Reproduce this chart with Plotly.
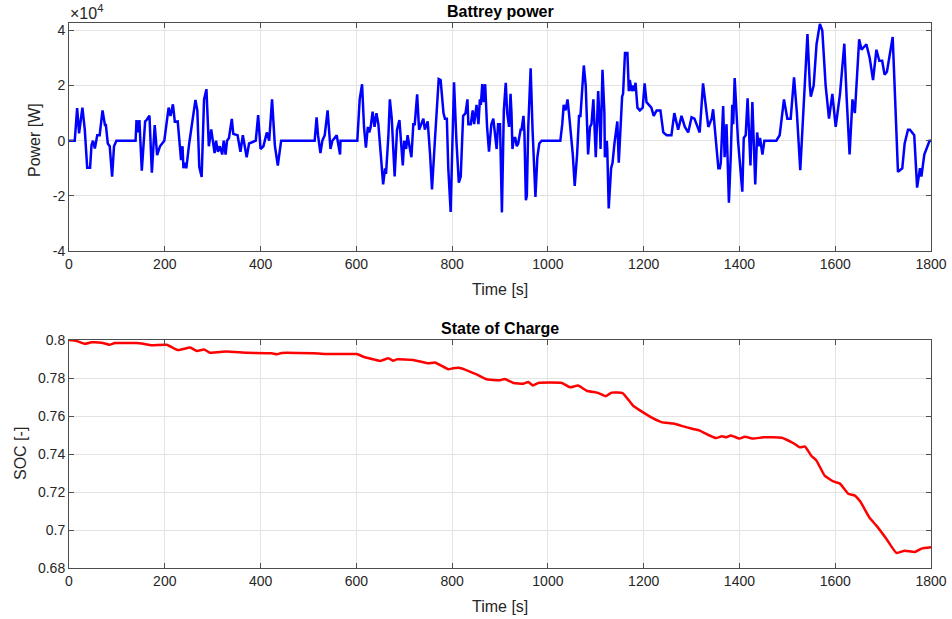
import numpy as np
import plotly.graph_objects as go

# ---- Battery power (values in units of 1e4 W) ----
power_t = [0, 12, 17, 21, 28, 33, 38, 44, 47, 50, 54, 59, 64, 70, 75, 77, 81, 85, 90, 94, 99, 139,
           141, 144, 147, 152, 159, 162, 168, 173, 179, 184, 190, 199, 208, 212, 217, 221, 227, 234,
           237, 239, 242, 245, 251, 258, 264, 268, 272, 277, 280, 282, 287, 290, 292, 297, 301, 304,
           307, 311, 315, 320, 323, 327, 330, 334, 340, 343, 352, 358, 363, 371, 376, 390, 395, 400,
           406, 413, 418, 424, 430, 436, 443, 513, 517, 520, 525, 529, 534, 540, 546, 550, 559, 566,
           567, 602, 607, 612, 616, 620, 624, 627, 630, 634, 638, 642, 646, 651, 656, 660, 662, 667,
           670, 674, 680, 685, 690, 697, 700, 704, 707, 715, 719, 722, 727, 731, 736, 740, 743, 749,
           754, 758, 764, 768, 772, 776, 782, 785, 789, 792, 797, 800, 804, 809, 814, 818, 823, 828,
           832, 834, 839, 843, 846, 851, 855, 858, 860, 863, 866, 869, 873, 877, 882, 886, 893, 896,
           900, 904, 908, 912, 915, 919, 922, 924, 926, 929, 932, 935, 938, 943, 945, 949, 951, 954,
           956, 959, 964, 968, 974, 978, 982, 987, 1026, 1030, 1033, 1037, 1041, 1044, 1047, 1052,
           1056, 1061, 1065, 1068, 1075, 1079, 1084, 1088, 1091, 1095, 1100, 1105, 1109, 1110, 1114,
           1118, 1119, 1123, 1124, 1127, 1132, 1135, 1139, 1141, 1145, 1148, 1155, 1157, 1161, 1166,
           1169, 1171, 1175, 1178, 1180, 1183, 1187, 1192, 1198, 1202, 1206, 1211, 1216, 1221, 1227,
           1235, 1241, 1248, 1258, 1264, 1272, 1279, 1286, 1293, 1300, 1306, 1313, 1317, 1324, 1335,
           1342, 1345, 1356, 1359, 1361, 1366, 1369, 1373, 1375, 1378, 1382, 1385, 1387, 1390, 1397,
           1406, 1409, 1413, 1417, 1423, 1427, 1433, 1437, 1440, 1443, 1448, 1452, 1477, 1484, 1493,
           1500, 1507, 1514, 1520, 1527, 1533, 1542, 1547, 1549, 1555, 1561, 1568, 1573, 1580, 1587,
           1594, 1601, 1610, 1619, 1624, 1630, 1636, 1641, 1650, 1655, 1660, 1665, 1672, 1679, 1686,
           1692, 1698, 1703, 1708, 1720, 1724, 1731, 1740, 1745, 1752, 1756, 1765, 1771, 1777, 1780,
           1786, 1791, 1797, 1800]
power_1e4 = [0, 0, 1.18, 0.27, 1.2, 0.39, -0.98, -0.98, -0.16, 0, -0.28, 0.2, 0.2, 1.1, 0.57, 0.57,
             -0.1, -0.2, -1.3, -0.2, 0, 0,
             0.75, 0.3, 0.75, -1.09, 0.7, 0.75, 0.91, -1.16, 0.57, -0.52, -0.2, 0, 1.2, 0.9, 1.32,
             0.69, 0.7, -0.7,
             -0.2, -1.0, -0.8, -1.0, -0.1, 0.8, 1.48, 1.1, -0.95, -1.31, 0, 1.5, 1.87, 0.8, -0.2,
             0.41, -0.1, -0.45,
             0, -0.4, -0.2, -0.5, 0, -0.5, 0, 0.1, 0.79, 0.25, 0.2, -0.4, 0.2, -0.6, -0.1, 0, 0.93,
             -0.3,
             -0.2, 0.3, 0, 1.5, -0.2, -0.9, 0, 0, 0.85, 0.2, -0.45, 0, 0.2, 1.1, -0.3, 0, 0.2, -0.5,
             0, 0, 1.5, 2.05, 0.5, -0.25, 0.5, 0.3, 0.5, 1.05, 0.5, 1.0, 0.6, -0.5, -1.58, -1.0,
             -1.2, 0.2,
             1.5, 0.8, -1.3, 0.4, 0.75, -0.9, 0, -0.3, 0.2, -0.6, 0.6, 0.6, 1.68, 0.4, 0.6, 0.8,
             0.4, 0.7,
             -0.5, -1.77, 0, 1.0, 2.24, 2.2, 1.0, 0.8, 0.8, -1.0, -2.58, -0.5, 2.12, 0, -1.52, -1.3,
             0.9, 1.0,
             1.5, 0.6, 0.6, 1.1, 0.6, 1.3, 0.6, 1.5, 1.3, 2.05, 1.4, 2.05, 0.5, -0.4, 0.6, 0.8,
             -0.3, 0.6,
             0.6, -2.6, 1.1, 2.1, 1.0, 0.5, 1.7, 1.0, -0.3, 0.1, 0.1, -0.2, -0.1, 0.4, 0.4, 0.9,
             0.3, -2.16,
             -2.0, 0.5, 2.63, 0.4, -2.04, -0.6, -0.1, 0, 0, 0.6, 1.3, 1.1, 1.5, 1.0, 0.5, -0.5,
             -1.64, -0.5, 0.9, 0.9, 2.73, 2.0, -0.5, 0.5, 0.6, 1.5, -0.6, 1.8, 0.3, -0.3, 2.57,
             1.0, -0.6, 0, -0.3, -2.46, -1.0, -0.8, -0.1, 0.2, 0.7, -0.8, 1.6, 1.7, 3.18, 3.18,
             1.8, 2.2, 1.8, 2.0, 1.8, 2.1, 1.2, 1.1, 1.2, 2.08, 1.4, 1.3, 1.2, 0.9, 1.1,
             1.1, 0.3, 0.2, 0.2, 1.0, 0.4, 0.9, 0.5, 0.3, 0.85, 0.8, 0.5, 0.3, 2.08, 0.5,
             0.8, 1.14, -1.0, -1.0, -0.8, 1.26, -0.6, 0.6, -0.5, -2.25, -0.5, 1.3, 0.6, 2.27, 0,
             -1.85, 0.1, 0.2, 1.54, -0.9, 1.4, -1.59, 0.3, -0.2, 0.1, -0.5, 0, 0, 0.2, 1.5,
             0.8, 0.8, 2.3, 1.0, -1.07, 1.0, 3.87, 2.0, 1.6, 2.0, 3.5, 4.24, 4.0, 2.0, 0.8,
             1.7, 0.5, 1.7, 3.52, 1.5, -0.5, 1.5, 1.0, 3.68, 3.3, 3.4, 3.5, 3.0, 2.2, 3.3,
             2.9, 2.9, 2.4, 2.5, 3.76, 2.0, -1.13, -1.0, -0.1, 0.4, 0.4, 0.2, -1.7, -1.0, -1.3,
             -0.5, -0.3, 0, 0]

# ---- State of charge ----
soc_t = [0, 16, 33, 47, 68, 84, 96, 141, 155, 173, 204, 228, 253, 267, 282, 294, 329, 371, 423,
         434, 444, 510, 545, 601, 615, 650, 667, 677, 684, 719, 750, 764, 792, 802, 816, 851, 872,
         900, 910, 928, 949, 959, 969, 980, 1029, 1046, 1063, 1081, 1105, 1121, 1133, 1156, 1178,
         1199, 1217, 1237, 1262, 1290, 1317, 1335, 1351, 1363, 1373, 1382, 1400, 1411, 1429, 1450,
         1488, 1512, 1526, 1537, 1550, 1561, 1578, 1596, 1610, 1627, 1641, 1652, 1672, 1686, 1707,
         1728, 1745, 1766, 1780, 1800]
soc = [0.8000, 0.7995, 0.7980, 0.7988, 0.7986, 0.7975, 0.7984, 0.7984, 0.7980, 0.7972, 0.7975,
       0.7947, 0.7960, 0.7942, 0.7950, 0.7933, 0.7939, 0.7933, 0.7930, 0.7925, 0.7932, 0.7930,
       0.7926, 0.7926, 0.7912, 0.7890, 0.7904, 0.7891, 0.7898, 0.7895, 0.7877, 0.7882, 0.7846,
       0.7851, 0.7853, 0.7819, 0.7793, 0.7788, 0.7795, 0.7774, 0.7770, 0.7779, 0.7761, 0.7774,
       0.7774, 0.7751, 0.7760, 0.7733, 0.7721, 0.7704, 0.7723, 0.7721, 0.7654, 0.7619, 0.7591,
       0.7568, 0.7560, 0.7540, 0.7523, 0.7500, 0.7484, 0.7493, 0.7488, 0.7498, 0.7481, 0.7491,
       0.7481, 0.7488, 0.7486, 0.7458, 0.7435, 0.7439, 0.7391, 0.7365, 0.7286, 0.7256, 0.7244,
       0.7191, 0.7181, 0.7151, 0.7063, 0.7023, 0.6953, 0.6879, 0.6891, 0.6884, 0.6902, 0.6909]

x_ticks = [0, 200, 400, 600, 800, 1000, 1200, 1400, 1600, 1800]
p_ticks = [-4, -2, 0, 2, 4]
soc_ticks = [0.68, 0.70, 0.72, 0.74, 0.76, 0.78, 0.80]
soc_ticklabels = ["0.68", "0.7", "0.72", "0.74", "0.76", "0.78", "0.8"]

power_w = np.array(power_1e4) * 1e4

FONT = "Liberation Sans, Arial, sans-serif"
TXT = "#262626"
AX = "#4d4d4d"
GRID = "#e3e3e3"

fig = go.Figure()
fig.add_trace(go.Scatter(x=power_t, y=power_w, mode="lines",
                         line=dict(color="#0000FF", width=2.5), xaxis="x", yaxis="y",
                         showlegend=False))
fig.add_trace(go.Scatter(x=soc_t, y=soc, mode="lines",
                         line=dict(color="#FF0000", width=2.5, shape="spline", smoothing=0.4),
                         xaxis="x2", yaxis="y2", showlegend=False))

common_x = dict(range=[0, 1800], tickvals=x_ticks, showgrid=True, gridcolor=GRID, gridwidth=1,
                showline=True, linecolor=AX, linewidth=1, mirror="ticks", ticks="inside",
                ticklen=5, tickcolor=AX, zeroline=False, automargin=False,
                tickfont=dict(family=FONT, size=14, color=TXT))
common_y = dict(showgrid=True, gridcolor=GRID, gridwidth=1, showline=True, linecolor=AX,
                linewidth=1, mirror="ticks", ticks="inside", ticklen=5, tickcolor=AX,
                zeroline=False, automargin=False, tickfont=dict(family=FONT, size=14, color=TXT))

# pixel geometry of the two axes boxes
L, R, T, B = 69, 931, 23, 568
W, H = 952, 619
plot_h = B - T
top_dom = [(B - 251) / plot_h, 1.0]
bot_dom = [0.0, (B - 340) / plot_h]


def py(px_y):
    return (B - px_y) / plot_h


def px(px_x):
    return (px_x - L) / (R - L)


fig.update_layout(
    width=W, height=H,
    margin=dict(l=L, r=W - R, t=T, b=H - B, autoexpand=False),
    paper_bgcolor="white", plot_bgcolor="white",
    xaxis=dict(common_x, anchor="y"),
    yaxis=dict(common_y, domain=top_dom, anchor="x", range=[-40000, 42700],
               tickvals=[v * 1e4 for v in p_ticks], ticktext=[str(v) for v in p_ticks]),
    xaxis2=dict(common_x, anchor="y2"),
    yaxis2=dict(common_y, domain=bot_dom, anchor="x2", range=[0.68, 0.80],
                tickvals=soc_ticks, ticktext=soc_ticklabels),
)

ann_font = dict(family=FONT, size=16, color=TXT)
title_font = dict(family=FONT, size=16, color="black")
fig.update_layout(annotations=[
    dict(text="<b>Battrey power</b>", x=0.5, xref="paper", y=py(11), yref="paper",
         yanchor="middle", showarrow=False, font=title_font),
    dict(text="<b>State of Charge</b>", x=0.5, xref="paper", y=py(328), yref="paper",
         yanchor="middle", showarrow=False, font=title_font),
    dict(text="×10<sup>4</sup>", x=px(68), xref="paper", y=py(12), yref="paper",
         xanchor="left", yanchor="middle", showarrow=False,
         font=dict(family=FONT, size=16, color=TXT)),
    dict(text="Time [s]", x=0.5, xref="paper", y=py(289), yref="paper",
         yanchor="middle", showarrow=False, font=ann_font),
    dict(text="Time [s]", x=0.5, xref="paper", y=py(606), yref="paper",
         yanchor="middle", showarrow=False, font=ann_font),
    dict(text="Power [W]", x=px(35), xref="paper", y=py(140), yref="paper",
         xanchor="center", yanchor="middle", textangle=-90, showarrow=False, font=ann_font),
    dict(text="SOC [-]", x=px(20), xref="paper", y=py(454), yref="paper",
         xanchor="center", yanchor="middle", textangle=-90, showarrow=False, font=ann_font),
])

fig.write_html("out.html")
